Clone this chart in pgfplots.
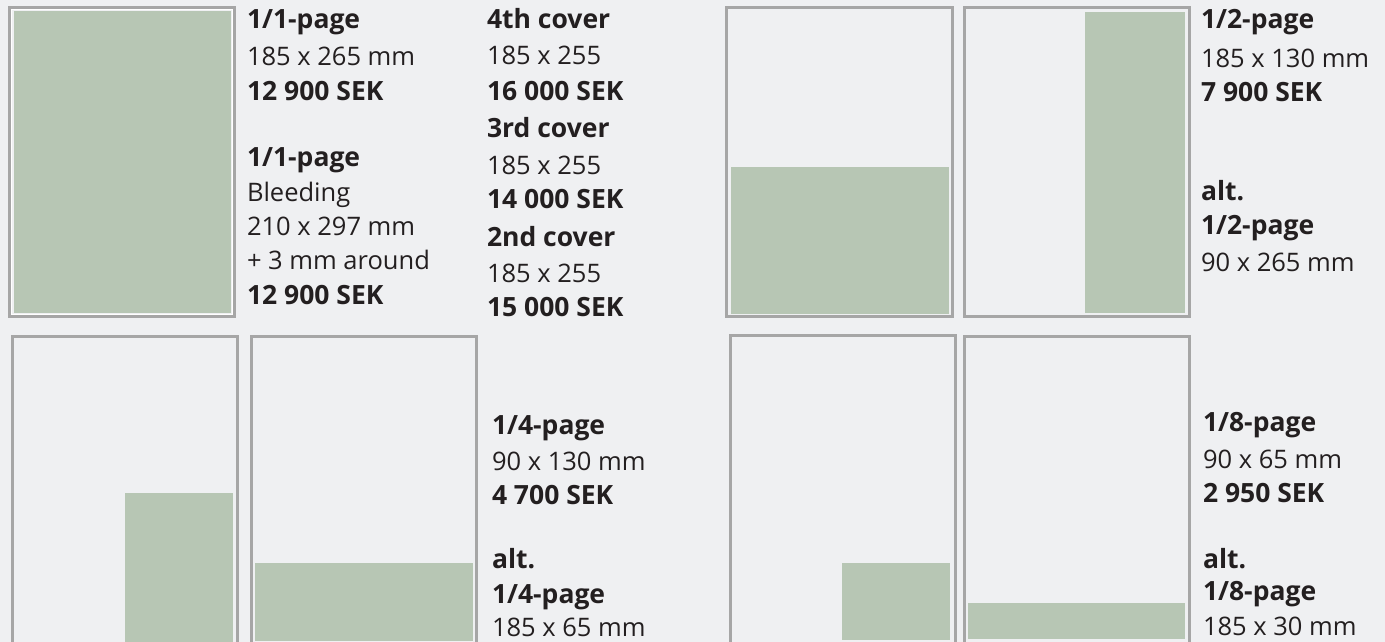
\documentclass[border=0pt]{standalone}
\usepackage{pgfplots}
\pgfplotsset{compat=1.18}
\usepackage{fontspec}
\setmainfont{Open Sans}
\definecolor{bg}{RGB}{239,240,242}
\definecolor{adgreen}{RGB}{183,198,180}
\definecolor{framegray}{RGB}{166,166,166}
\definecolor{txt}{RGB}{35,31,32}
\begin{document}
\begin{tikzpicture}[
  t/.style={font=\fontsize{25.5}{30}\selectfont, text=txt, inner sep=0pt, outer sep=0pt, anchor=base west},
  b/.style={font=\fontsize{26.5}{30}\selectfont\bfseries, text=txt, inner sep=0pt, outer sep=0pt, anchor=base west}]
\begin{axis}[
  width=1385pt, height=642pt, scale only axis,
  xmin=0, xmax=1385, ymin=0, ymax=642, y dir=reverse,
  axis lines=none, ticks=none,
  axis background/.style={fill=bg},
]
% green ad areas
\addplot[fill=adgreen, draw=none] coordinates {(14,11) (231,11) (231,313) (14,313)} -- cycle;
\addplot[fill=adgreen, draw=none] coordinates {(731,167) (949,167) (949,314) (731,314)} -- cycle;
\addplot[fill=adgreen, draw=none] coordinates {(1085,12) (1185,12) (1185,313) (1085,313)} -- cycle;
\addplot[fill=adgreen, draw=none] coordinates {(125,493) (233,493) (233,642) (125,642)} -- cycle;
\addplot[fill=adgreen, draw=none] coordinates {(255,563) (473,563) (473,641) (255,641)} -- cycle;
\addplot[fill=adgreen, draw=none] coordinates {(842,563) (950,563) (950,640) (842,640)} -- cycle;
\addplot[fill=adgreen, draw=none] coordinates {(968,603) (1185,603) (1185,639) (968,639)} -- cycle;
% page frames
\addplot[draw=framegray, line width=3pt] coordinates {(9.5,7.5) (234.5,7.5) (234.5,316.5) (9.5,316.5)} -- cycle;
\addplot[draw=white, line width=0.8pt] coordinates {(11.8,9.8) (232.2,9.8) (232.2,314.2) (11.8,314.2)} -- cycle;
\addplot[draw=framegray, line width=3pt] coordinates {(726.5,7.5) (952.5,7.5) (952.5,316.5) (726.5,316.5)} -- cycle;
\addplot[draw=framegray, line width=3pt] coordinates {(964.5,7.5) (1189.5,7.5) (1189.5,316.5) (964.5,316.5)} -- cycle;
\addplot[draw=framegray, line width=3pt] coordinates {(12.5,700) (12.5,336.5) (237.5,336.5) (237.5,700)};
\addplot[draw=framegray, line width=3pt] coordinates {(251.5,700) (251.5,336.5) (476.5,336.5) (476.5,700)};
\addplot[draw=framegray, line width=3pt] coordinates {(730.5,700) (730.5,335.5) (955.5,335.5) (955.5,700)};
\addplot[draw=framegray, line width=3pt] coordinates {(964.5,700) (964.5,336.5) (1189.5,336.5) (1189.5,700)};
% column 1
\node[b] at (axis cs:247,29) {1/1-page};
\node[t] at (axis cs:247,66) {185 x 265 mm};
\node[b] at (axis cs:247,100) {12 900 SEK};
\node[b] at (axis cs:247,166) {1/1-page};
\node[t] at (axis cs:247,201) {Bleeding};
\node[t] at (axis cs:247,235) {210 x 297 mm};
\node[t] at (axis cs:247,269) {+ 3 mm around};
\node[b] at (axis cs:247,304) {12 900 SEK};
% column 2
\node[b] at (axis cs:487,29) {4th cover};
\node[t] at (axis cs:487,65) {185 x 255};
\node[b] at (axis cs:487,100) {16 000 SEK};
\node[b] at (axis cs:487,137) {3rd cover};
\node[t] at (axis cs:487,174) {185 x 255};
\node[b] at (axis cs:487,208) {14 000 SEK};
\node[b] at (axis cs:487,246) {2nd cover};
\node[t] at (axis cs:487,282) {185 x 255};
\node[b] at (axis cs:487,316) {15 000 SEK};
% column 3
\node[b] at (axis cs:1201,29) {1/2-page};
\node[t] at (axis cs:1201,67) {185 x 130 mm};
\node[b] at (axis cs:1201,101) {7 900 SEK};
\node[b] at (axis cs:1201,200) {alt.};
\node[b] at (axis cs:1201,234) {1/2-page};
\node[t] at (axis cs:1201,271) {90 x 265 mm};
% column 4
\node[b] at (axis cs:492,434) {1/4-page};
\node[t] at (axis cs:492,470) {90 x 130 mm};
\node[b] at (axis cs:492,504) {4 700 SEK};
\node[b] at (axis cs:492,568) {alt.};
\node[b] at (axis cs:492,603) {1/4-page};
\node[t] at (axis cs:492,636) {185 x 65 mm};
% column 5
\node[b] at (axis cs:1203,431) {1/8-page};
\node[t] at (axis cs:1203,468) {90 x 65 mm};
\node[b] at (axis cs:1203,502) {2 950 SEK};
\node[b] at (axis cs:1203,568) {alt.};
\node[b] at (axis cs:1203,600) {1/8-page};
\node[t] at (axis cs:1203,635) {185 x 30 mm};
\end{axis}
\end{tikzpicture}
\end{document}
